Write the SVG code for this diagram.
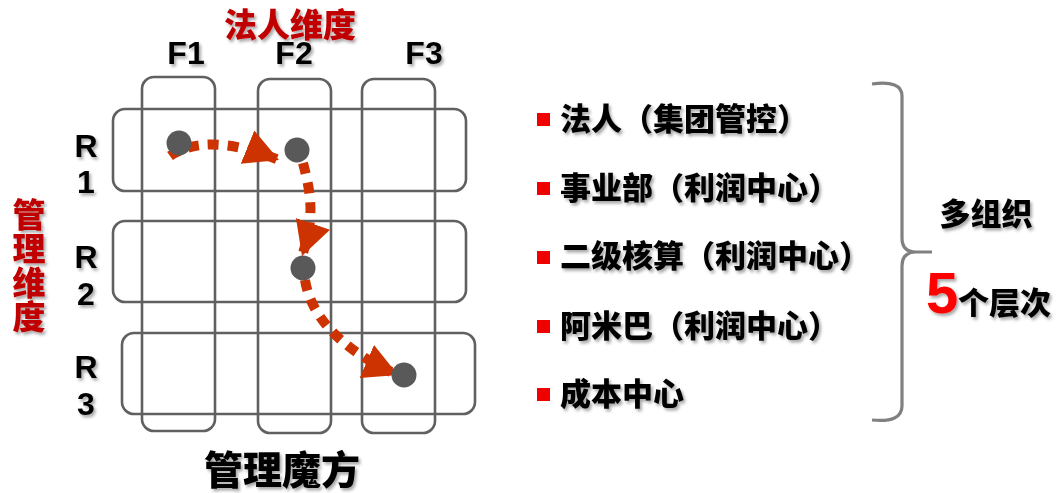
<svg xmlns="http://www.w3.org/2000/svg" width="1058" height="493" viewBox="0 0 1058 493">
<style>
  .grid{fill:none;stroke:#606060;stroke-width:2.6}
  .dot{fill:#595959}
  .conn{fill:none;stroke:#cc3300;stroke-width:10;stroke-dasharray:11 9;marker-end:url(#ah)}
  .t{font-family:"Liberation Sans","Noto Sans CJK SC",sans-serif;font-weight:bold;filter:url(#sh)}
  .cjk{font-family:"Noto Sans CJK SC",sans-serif;font-weight:900;filter:url(#sh)}
  .red{fill:#c00000}
  .blk{fill:#000}
  .bul{fill:#f00000}
  .lbl{font-size:32px;text-anchor:middle}
  .item{font-size:31px}
</style>
<defs>
  <filter id="sh" x="-20%" y="-20%" width="140%" height="150%">
    <feDropShadow dx="2" dy="2.5" stdDeviation="1.5" flood-color="#000" flood-opacity="0.35"/>
  </filter>
  <marker id="ah" markerUnits="userSpaceOnUse" markerWidth="40" markerHeight="40" refX="34" refY="18" orient="auto">
    <path d="M0,0 L34,18 L0,36 z" fill="#cc3300"/>
  </marker>
</defs>
<rect width="1058" height="493" fill="#fff"/>

<g id="grid">
  <rect id="col-F1" class="grid" x="142" y="77" width="73" height="354" rx="12"/>
  <rect id="col-F2" class="grid" x="258" y="79" width="73" height="354" rx="12"/>
  <rect id="col-F3" class="grid" x="362" y="79" width="73" height="354" rx="12"/>
  <rect id="row-R1" class="grid" x="113" y="109" width="353" height="82" rx="12"/>
  <rect id="row-R2" class="grid" x="113" y="221" width="353" height="81" rx="12"/>
  <rect id="row-R3" class="grid" x="122" y="333" width="353" height="81" rx="12"/>
</g>

<g id="connectors">
  <path class="conn" d="M170,156 C190,142 225,138 279,160"/>
  <path class="conn" d="M303,163 C310,190 316,215 302,256"/>
  <path class="conn" d="M305,280 C310,312 336,348 398,375"/>
</g>

<g id="dot-1"><circle class="dot" cx="179" cy="143" r="12.5"/></g>
<g id="dot-2"><circle class="dot" cx="297" cy="150" r="12.5"/></g>
<g id="dot-3"><circle class="dot" cx="303" cy="268" r="12.5"/></g>
<g id="dot-4"><circle class="dot" cx="404" cy="375" r="12.5"/></g>

<g id="title-top"><text class="cjk red" x="290" y="37" font-size="33" text-anchor="middle">法人维度</text></g>
<g id="col-labels">
  <text class="t blk lbl" x="186" y="64">F1</text>
  <text class="t blk lbl" x="294" y="64">F2</text>
  <text class="t blk lbl" x="424" y="64">F3</text>
</g>
<g id="row-labels">
  <text class="t blk lbl" x="86" y="157">R</text>
  <text class="t blk lbl" x="86" y="193">1</text>
  <text class="t blk lbl" x="86" y="268">R</text>
  <text class="t blk lbl" x="86" y="305">2</text>
  <text class="t blk lbl" x="86" y="378">R</text>
  <text class="t blk lbl" x="86" y="415">3</text>
</g>
<g id="title-left">
  <text class="cjk red" x="29" y="198" font-size="33" letter-spacing="1" writing-mode="vertical-rl">管理维度</text>
</g>
<g id="title-bottom"><text class="cjk blk" x="282" y="484" font-size="39" text-anchor="middle">管理魔方</text></g>

<g id="list">
  <rect class="bul" x="537" y="113" width="13" height="13"/>
  <text class="cjk blk item" x="560" y="130">法人（集团管控）</text>
  <rect class="bul" x="537" y="182" width="13" height="13"/>
  <text class="cjk blk item" x="560" y="199">事业部（利润中心）</text>
  <rect class="bul" x="537" y="251" width="13" height="13"/>
  <text class="cjk blk item" x="560" y="267">二级核算（利润中心）</text>
  <rect class="bul" x="537" y="320" width="13" height="13"/>
  <text class="cjk blk item" x="560" y="337">阿米巴（利润中心）</text>
  <rect class="bul" x="537" y="388" width="13" height="13"/>
  <text class="cjk blk item" x="560" y="405">成本中心</text>
</g>

<g id="brace">
  <path d="M872,84 Q902,80 902,96 L902,238 Q902,252 916,252 L932,252 M916,252 Q902,252 902,266 L902,406 Q902,423 872,420" fill="none" stroke="#808080" stroke-width="3.2"/>
</g>

<g id="summary">
  <text class="cjk blk" x="986" y="225" font-size="31" text-anchor="middle">多组织</text>
  <text class="t" x="926" y="313" font-size="58" fill="#ff0000">5</text>
  <text class="cjk blk" x="958" y="314" font-size="31">个层次</text>
</g>
</svg>
